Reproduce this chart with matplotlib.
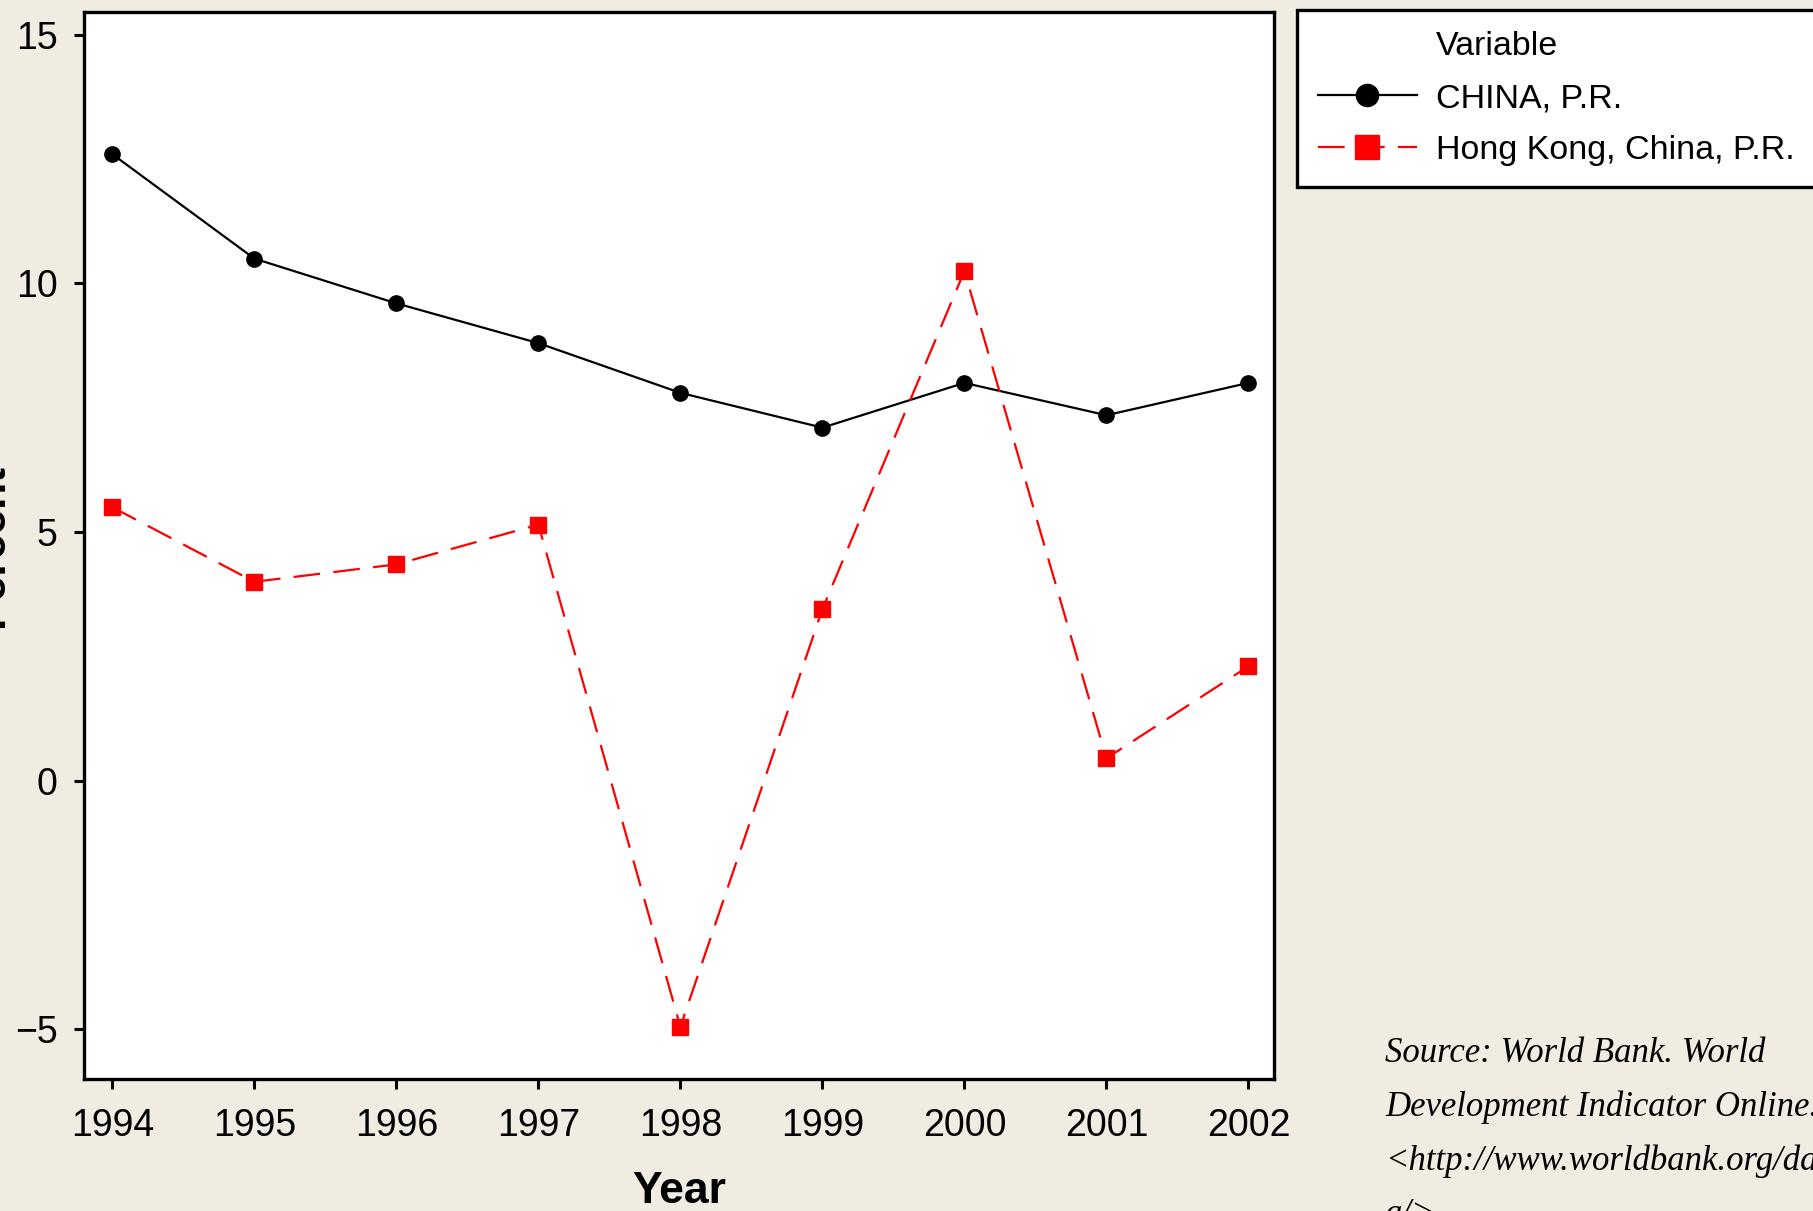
import matplotlib
matplotlib.use("Agg")
import matplotlib.pyplot as plt
from matplotlib.lines import Line2D

# Valores (crescimento anual, %)
years = [1994, 1995, 1996, 1997, 1998, 1999, 2000, 2001, 2002]
china = [12.6, 10.5, 9.6, 8.8, 7.8, 7.1, 8.0, 7.35, 8.0]
hong_kong = [5.5, 4.0, 4.35, 5.15, -4.95, 3.45, 10.25, 0.45, 2.3]
y_ticks = [-5, 0, 5, 10, 15]
series_names = ["CHINA, P.R.", "Hong Kong, China, P.R."]
source_lines = ["Source: World Bank. World",
                "Development Indicator Online.",
                "<http://www.worldbank.org/dat",
                "a/>"]

bg = "#F0ECE2"
plt.rcParams["font.family"] = ["Liberation Sans", "DejaVu Sans"]

fig = plt.figure(figsize=(18.13, 12.11), dpi=100, facecolor=bg)
ax = fig.add_axes([0.0463, 0.1090, 0.7027 - 0.0463, 0.9901 - 0.1090])
ax.set_facecolor("white")

l1, = ax.plot(years, china, color="black", lw=1.6, marker="o",
              markersize=11, label=series_names[0])
l2, = ax.plot(years, hong_kong, color="#FF0000", lw=1.6, marker="s",
              markersize=12, dashes=(12, 6), label=series_names[1])

ax.set_xlim(1993.8, 2002.18)
ax.set_ylim(-6.0, 15.46)
ax.set_xticks(years)
ax.set_yticks(y_ticks)
ax.tick_params(axis="both", direction="out", length=7, width=2.2,
               labelsize=27, pad=14)
ax.tick_params(axis="y", pad=12)
for s in ax.spines.values():
    s.set_linewidth(2.4)

ax.set_xlabel("Year", fontsize=32, fontweight="bold", labelpad=19)
ax.set_ylabel("Percent", fontsize=32, fontweight="bold", labelpad=2)

# Legenda com título alinhado ao texto (linha vazia como "handle")
blank = Line2D([], [], linestyle="none")
leg = fig.legend([blank, l1, l2], ["Variable"] + series_names,
                 loc="upper left", bbox_to_anchor=(0.7154, 0.70, 0.45, 0.2917),
                 mode="expand", borderaxespad=0, fontsize=24.5,
                 handlelength=2.9, handletextpad=0.57, borderpad=0.62,
                 labelspacing=0.62, numpoints=1, markerscale=1.45,
                 fancybox=False, framealpha=1, edgecolor="black")
leg.get_frame().set_linewidth(2.4)

fig.text(1385 / 1813, 1 - 1037 / 1211, "\n".join(source_lines),
         family="Liberation Serif", style="italic", fontsize=25,
         va="top", ha="left", linespacing=1.8)

fig.savefig("out.png", dpi=100, facecolor=bg)
